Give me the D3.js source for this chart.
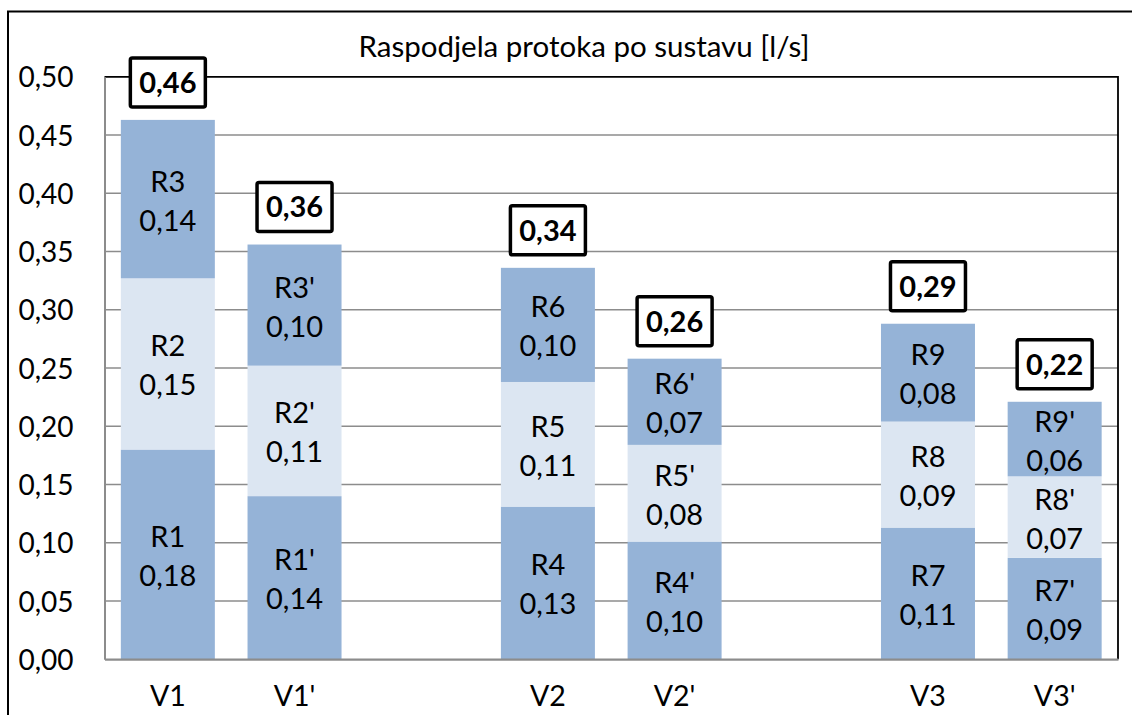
<!DOCTYPE html>
<html>
<head>
<meta charset="utf-8">
<script src="https://cdn.jsdelivr.net/npm/d3@7/dist/d3.min.js"></script>
<style>
  html, body { margin: 0; padding: 0; background: #fff; }
  svg { display: block; font-family: Lato, "Open Sans", sans-serif; }
</style>
</head>
<body>
<svg id="chart" width="1132" height="715"></svg>
<script>
// Flow distribution per system (l/s), three stacked sections per variant
const title = "Raspodjela protoka po sustavu [l/s]";
const categories = ["V1", "V1'", "V2", "V2'", "V3", "V3'"];
// slot order on the x axis; the "gap" entries leave an empty column between groups
const slots = ["V1", "V1'", "gap1", "V2", "V2'", "gap2", "V3", "V3'"];

const lowerNames  = ["R1", "R1'", "R4", "R4'", "R7", "R7'"];
const middleNames = ["R2", "R2'", "R5", "R5'", "R8", "R8'"];
const upperNames  = ["R3", "R3'", "R6", "R6'", "R9", "R9'"];

const lowerValues  = [0.180, 0.140, 0.131, 0.101, 0.113, 0.087];
const middleValues = [0.147, 0.112, 0.107, 0.083, 0.091, 0.070];
const upperValues  = [0.136, 0.104, 0.098, 0.074, 0.084, 0.064];

const yTicks = [0, 0.05, 0.10, 0.15, 0.20, 0.25, 0.30, 0.35, 0.40, 0.45, 0.50];

const fmt = v => v.toFixed(2).replace(".", ",");

const rows = categories.map((c, i) => ({
  cat: c,
  lower: lowerValues[i], middle: middleValues[i], upper: upperValues[i],
  names: { lower: lowerNames[i], middle: middleNames[i], upper: upperNames[i] }
}));
const keys = ["lower", "middle", "upper"];
const fills = { lower: "#95b3d7", middle: "#dce6f2", upper: "#95b3d7" };

const svg = d3.select("#chart");

const plot = { left: 104.5, right: 1118, top: 76.8, bottom: 659.2 };

const x = d3.scaleBand()
  .domain(slots)
  .range([plot.left, plot.right])
  .paddingInner(0.258)
  .paddingOuter(0.129);

const y = d3.scaleLinear()
  .domain([0, 0.5])
  .range([plot.bottom, plot.top]);

// outer chart frame
svg.append("rect")
  .attr("x", 8).attr("y", 11.5)
  .attr("width", 1150).attr("height", 740)
  .attr("fill", "none").attr("stroke", "#000").attr("stroke-width", 2);

// title
svg.append("text")
  .attr("x", 584).attr("y", 56.7)
  .attr("text-anchor", "middle")
  .attr("font-size", 29.5)
  .attr("fill", "#000")
  .text(title);

// horizontal gridlines
svg.append("g")
  .selectAll("line")
  .data(yTicks.filter(t => t > 0 && t < 0.5))
  .join("line")
  .attr("x1", plot.left).attr("x2", plot.right)
  .attr("y1", d => y(d)).attr("y2", d => y(d))
  .attr("stroke", "#8c8c8c").attr("stroke-width", 1.6);

// plot area border (top and right)
svg.append("path")
  .attr("d", `M${plot.left},${y(0.5)}H${plot.right}V${plot.bottom}`)
  .attr("fill", "none").attr("stroke", "#000").attr("stroke-width", 1.8);

// y axis
const yAxis = svg.append("g")
  .attr("transform", `translate(${plot.left},0)`)
  .call(d3.axisLeft(y).tickValues(yTicks).tickFormat(fmt).tickSize(0).tickPadding(31));
yAxis.select(".domain").attr("stroke", "#8c8c8c").attr("stroke-width", 2);
yAxis.selectAll("text")
  .attr("font-size", 28).attr("fill", "#000")
  .attr("font-family", "Lato, 'Open Sans', sans-serif")
  .attr("dy", "0.36em");

// stacked bars
const stacked = d3.stack().keys(keys)(rows);

const layers = svg.append("g")
  .selectAll("g")
  .data(stacked)
  .join("g")
  .attr("fill", d => fills[d.key]);

layers.selectAll("rect")
  .data(d => d.map(s => ({ s, key: d.key })))
  .join("rect")
  .attr("x", d => x(d.s.data.cat))
  .attr("width", x.bandwidth())
  .attr("y", d => y(d.s[1]))
  .attr("height", d => y(d.s[0]) - y(d.s[1]));

// segment labels: name and value on two lines
const segLabels = svg.append("g")
  .selectAll("text")
  .data(stacked.flatMap(layer => layer.map(s => ({ s, key: layer.key }))))
  .join("text")
  .attr("text-anchor", "middle")
  .attr("font-size", 29)
  .attr("fill", "#000")
  .attr("transform", d => {
    const cx = x(d.s.data.cat) + x.bandwidth() / 2;
    const cy = (y(d.s[0]) + y(d.s[1])) / 2;
    return `translate(${cx},${cy})`;
  });
segLabels.append("tspan")
  .attr("x", 0).attr("y", -7.5)
  .text(d => d.s.data.names[d.key]);
segLabels.append("tspan")
  .attr("x", 0).attr("y", 31.5)
  .text(d => fmt(d.s.data[d.key]));

// totals in boxes above each bar
const totals = svg.append("g")
  .selectAll("g")
  .data(rows)
  .join("g")
  .attr("transform", d => {
    const total = d.lower + d.middle + d.upper;
    return `translate(${x(d.cat) + x.bandwidth() / 2},${y(total) - 13 - 24.5})`;
  });
totals.append("rect")
  .attr("x", -37.5).attr("y", -24.5)
  .attr("width", 75).attr("height", 49)
  .attr("rx", 2)
  .attr("fill", "#fff").attr("stroke", "#000").attr("stroke-width", 3.5);
totals.append("text")
  .attr("text-anchor", "middle")
  .attr("dy", "0.36em")
  .attr("font-size", 29)
  .attr("font-weight", "bold")
  .attr("fill", "#000")
  .text(d => fmt(d.lower + d.middle + d.upper));

// x axis
const xAxis = svg.append("g")
  .attr("transform", `translate(0,${plot.bottom})`)
  .call(d3.axisBottom(x).tickFormat(d => categories.includes(d) ? d : "").tickSize(0).tickPadding(27));
xAxis.select(".domain").attr("stroke", "#8c8c8c").attr("stroke-width", 2.2);
xAxis.selectAll("text")
  .attr("font-size", 28.5).attr("fill", "#000")
  .attr("font-family", "Lato, 'Open Sans', sans-serif");
</script>
</body>
</html>
